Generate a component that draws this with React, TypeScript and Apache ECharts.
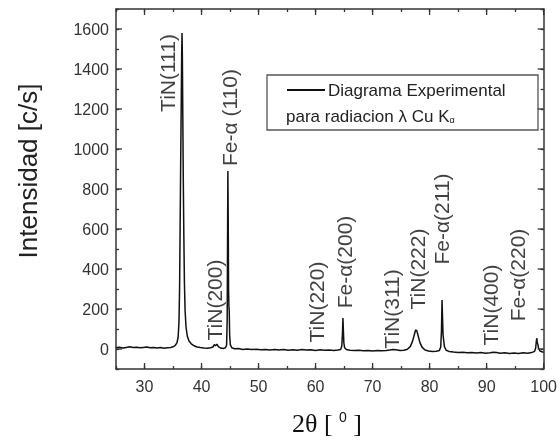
import React, { useEffect, useRef } from 'react';
import * as echarts from 'echarts';

// 2θ (degrees) and intensity (c/s)
const twoTheta = [
  25.0, 25.6, 26.2, 26.8, 27.4, 28.0, 28.6, 29.2, 29.8, 30.4, 31.0, 31.6, 32.2, 32.8, 33.4, 34.0, 34.6, 35.0,
  35.4, 35.7, 35.9, 36.05, 36.15, 36.25, 36.35, 36.45, 36.52, 36.58, 36.64, 36.72, 36.8, 36.9, 37.0, 37.12,
  37.28, 37.5, 37.8, 38.2, 38.7, 39.2, 39.8, 40.4, 41.0, 41.6, 42.0, 42.25, 42.45, 42.7, 42.95, 43.3, 43.8,
  44.2, 44.4, 44.5, 44.56, 44.62, 44.68, 44.74, 44.8, 44.86, 44.93, 45.05, 45.3, 45.8, 46.5, 47.2, 48.0,
  48.8, 49.6, 50.4, 51.2, 52.0, 52.8, 53.6, 54.4, 55.2, 56.0, 56.8, 57.6, 58.4, 59.2, 60.0, 60.8, 61.6,
  62.4, 63.2, 63.9, 64.4, 64.6, 64.72, 64.8, 64.88, 64.96, 65.1, 65.4, 66.0, 66.8, 67.6, 68.4, 69.2, 70.0,
  70.8, 71.6, 72.4, 73.0, 73.6, 74.1, 74.8, 75.5, 76.1, 76.6, 77.0, 77.3, 77.55, 77.75, 78.0, 78.3, 78.7,
  79.2, 79.8, 80.5, 81.2, 81.7, 81.95, 82.08, 82.18, 82.27, 82.36, 82.46, 82.6, 82.9, 83.4, 84.2, 85.0,
  85.8, 86.6, 87.4, 88.2, 89.0, 89.8, 90.6, 91.2, 91.7, 92.4, 93.2, 94.0, 94.8, 95.6, 96.4, 97.2, 97.9,
  98.4, 98.6, 98.72, 98.8, 98.88, 98.98, 99.1, 99.35, 99.7, 100.0,
];
const counts = [
  6, 9, 5, 8, 11, 7, 9, 6, 8, 10, 6, 8, 5, 7, 4, 6, 8, 11,
  18, 32, 60, 140, 300, 620, 950, 1250, 1480, 1580, 1460, 1150, 850, 560, 330, 190,
  110, 65, 40, 26, 16, 10, 7, 5, 4, 6, 10, 22, 16, 24, 12, 5, 3,
  6, 20, 150, 520, 890, 640, 300, 215, 190, 70, 22, 6, 1, 2, -2, 0,
  -3, -1, -4, -2, -5, -3, -5, -2, -6, -4, -6, -3, -5, -4, -7, -4, -6,
  -5, -7, -5, -2, 15, 80, 155, 90, 30, 6, -3, -6, -8, -6, -9, -7, -10,
  -8, -9, -7, -5, -2, -4, -7, -6, -1, 12, 38, 70, 95, 92, 65, 32, 8,
  -5, -10, -12, -11, -8, 10, 90, 245, 150, 70, 45, 12, -6, -12, -15, -17,
  -16, -19, -18, -20, -18, -21, -19, -16, -18, -21, -19, -22, -20, -22, -19, -21, -18,
  -12, 5, 40, 55, 30, 25, 5, -10, -14, -16,
];

// peak annotations (label text and its centre in data coordinates)
const peakNames = ['TiN(111)', 'Fe-α (110)', 'TiN(200)', 'TiN(220)', 'Fe-α(200)', 'TiN(311)', 'TiN(222)', 'Fe-α(211)', 'TiN(400)', 'Fe-α(220)'];
const peakLabelX = [34.0, 44.9, 42.3, 60.1, 65.0, 73.3, 77.9, 82.1, 90.6, 95.4];
const peakLabelY = [1380, 1157, 245, 235, 435, 200, 400, 650, 220, 370];

const xMajorTicks = [30, 40, 50, 60, 70, 80, 90, 100];
const yMajorTicks = [0, 200, 400, 600, 800, 1000, 1200, 1400, 1600];

const X_MIN = 25, X_MAX = 100, Y_MIN = -100, Y_MAX = 1700;
const AXIS_COLOR = '#333';
const SANS = '"Liberation Sans", Arial, sans-serif';
const SERIF = '"Liberation Serif", "Times New Roman", serif';
const MAJOR_LEN = 6;

// major tick marks, drawn through the axes' own scale (api.coord)
function tickSeries(kind: 'bottom' | 'top' | 'left' | 'right') {
  const isX = kind === 'bottom' || kind === 'top';
  const ticks = isX ? xMajorTicks : yMajorTicks;
  return {
    type: 'custom', clip: false, z: 10,
    data: ticks.map((v) => (isX ? [v, kind === 'bottom' ? Y_MIN : Y_MAX] : [kind === 'left' ? X_MIN : X_MAX, v])),
    renderItem: (_p: any, api: any) => {
      const c = api.coord([api.value(0), api.value(1)]);
      let x2 = c[0], y2 = c[1];
      if (kind === 'bottom') y2 -= MAJOR_LEN;
      if (kind === 'top') y2 += MAJOR_LEN;
      if (kind === 'left') x2 += MAJOR_LEN;
      if (kind === 'right') x2 -= MAJOR_LEN;
      return { type: 'line', shape: { x1: c[0], y1: c[1], x2, y2 }, style: { stroke: AXIS_COLOR, lineWidth: 1.3 } };
    },
  };
}

export default function App() {
  const ref = useRef<HTMLDivElement>(null);
  useEffect(() => {
    if (!ref.current) return;
    const chart = echarts.init(ref.current, undefined, { renderer: 'svg' });
    const lineData = twoTheta.map((t, i) => [t, counts[i]]);
    const axisLine = { show: true, onZero: false, lineStyle: { color: AXIS_COLOR, width: 1.5 } };
    const minorTick = { show: true, inside: true, length: 3, lineStyle: { color: AXIS_COLOR, width: 1.3 } };
    chart.setOption({
      animation: false,
      grid: { left: 116, right: 13, top: 9, bottom: 72 },
      xAxis: [
        {
          type: 'value', position: 'bottom', min: X_MIN, max: X_MAX, interval: 5,
          axisLine, axisTick: minorTick, splitLine: { show: false },
          axisLabel: {
            margin: 9, fontSize: 16, fontFamily: SANS, color: '#333', showMaxLabel: true,
            formatter: (v: number) => (xMajorTicks.includes(v) ? String(v) : ''),
          },
        },
        {
          type: 'value', position: 'top', min: X_MIN, max: X_MAX, interval: 5,
          axisLine, axisTick: minorTick, splitLine: { show: false }, axisLabel: { show: false },
        },
      ],
      yAxis: [
        {
          type: 'value', position: 'left', min: Y_MIN, max: Y_MAX, interval: 100,
          axisLine, axisTick: minorTick, splitLine: { show: false },
          axisLabel: {
            margin: 7, fontSize: 16, fontFamily: SANS, color: '#333',
            formatter: (v: number) => (yMajorTicks.includes(v) ? String(v) : ''),
          },
        },
        {
          type: 'value', position: 'right', min: Y_MIN, max: Y_MAX, interval: 100,
          axisLine, axisTick: minorTick, splitLine: { show: false }, axisLabel: { show: false },
        },
      ],
      series: [
        {
          type: 'line', xAxisIndex: 0, yAxisIndex: 0, data: lineData,
          showSymbol: false, symbol: 'none',
          lineStyle: { color: '#111', width: 1.5 }, silent: true, z: 3,
        },
        tickSeries('bottom'),
        tickSeries('top'),
        tickSeries('left'),
        tickSeries('right'),
        {
          type: 'scatter', xAxisIndex: 0, yAxisIndex: 0, symbolSize: 1,
          itemStyle: { color: 'rgba(0,0,0,0)' }, silent: true,
          data: peakNames.map((n, i) => ({ name: n, value: [peakLabelX[i], peakLabelY[i]] })),
          label: {
            show: true, position: 'inside', rotate: 90, formatter: '{b}',
            fontSize: 21, fontFamily: SANS, color: '#111',
          },
          z: 5,
        },
      ],
      graphic: [
        {
          type: 'text', x: 28, y: 171, rotation: Math.PI / 2,
          style: { text: 'Intensidad [c/s]', fontSize: 26, fontFamily: SANS, fill: '#222', align: 'center', verticalAlign: 'middle' },
        },
        {
          type: 'text', x: 327, y: 423,
          style: {
            text: '{a|2θ [ }{s|0}{a| ]}', align: 'center', verticalAlign: 'middle',
            rich: {
              a: { fontSize: 26, fontFamily: SERIF, fill: '#111' },
              s: { fontSize: 14, fontFamily: SANS, fill: '#111', verticalAlign: 'top' },
            },
          },
        },
        {
          type: 'rect', shape: { x: 267, y: 75, width: 271, height: 55 },
          style: { fill: '#fff', stroke: '#555', lineWidth: 1.3 }, z: 10,
        },
        {
          type: 'line', shape: { x1: 287, y1: 90, x2: 325, y2: 90 },
          style: { stroke: '#111', lineWidth: 2 }, z: 11,
        },
        {
          type: 'text', x: 328, y: 90, z: 11,
          style: { text: 'Diagrama Experimental', fontSize: 17, fontFamily: SANS, fill: '#222', align: 'left', verticalAlign: 'middle' },
        },
        {
          type: 'text', x: 286, y: 116, z: 11,
          style: {
            text: '{a|para radiacion λ Cu K}{s|α}', align: 'left', verticalAlign: 'middle',
            rich: {
              a: { fontSize: 17, fontFamily: SANS, fill: '#222' },
              s: { fontSize: 9, fontFamily: SANS, fill: '#222', verticalAlign: 'bottom' },
            },
          },
        },
      ],
    });
    return () => chart.dispose();
  }, []);
  return <div ref={ref} style={{ position: 'fixed', left: 0, top: 0, width: 560, height: 441 }} />;
}
